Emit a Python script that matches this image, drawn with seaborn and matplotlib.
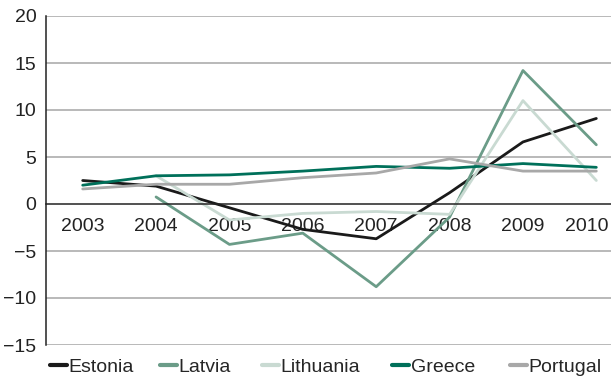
import matplotlib
matplotlib.use("Agg")
import matplotlib.pyplot as plt
import matplotlib.transforms as mtrans
import numpy as np
import pandas as pd
import seaborn as sns
from matplotlib.lines import Line2D

# ─── Data ────────────────────────────────────────────────────────────────────
years = ["2003", "2004", "2005", "2006", "2007", "2008", "2009", "2010"]
estonia = [2.5, 1.9, -0.4, -2.7, -3.7, 1.2, 6.6, 9.1]
latvia = [np.nan, 0.75, -4.3, -3.1, -8.8, -1.4, 14.2, 6.3]
lithuania = [np.nan, 3.0, -1.7, -1.0, -0.8, -1.1, 11.0, 2.5]
greece = [2.0, 3.0, 3.1, 3.5, 4.0, 3.8, 4.3, 3.9]
portugal = [1.6, 2.1, 2.1, 2.8, 3.3, 4.8, 3.5, 3.5]

countries = ["Estonia", "Latvia", "Lithuania", "Greece", "Portugal"]
colors = ["#1a1a1a", "#6b9c88", "#c9dad2", "#00705a", "#a8a8a8"]

rows = []
for name, vals in zip(countries, [estonia, latvia, lithuania, greece, portugal]):
    for i, v in enumerate(vals):
        if not np.isnan(v):
            rows.append({"pos": i, "value": v, "country": name})
df = pd.DataFrame(rows)

# ─── Plot ────────────────────────────────────────────────────────────────────
sns.set_style("white")
plt.rcParams["font.family"] = ["Liberation Sans", "DejaVu Sans"]
FS = 14

fig = plt.figure(figsize=(6.11, 3.78), dpi=100)
ax = fig.add_axes([46 / 611, 1 - 345 / 378, 1 - 46 / 611, (345 - 16) / 378])

# grid lines first so the series sit on top
for y in [-15, -10, -5, 5, 10, 15, 20]:
    ax.axhline(y, color="#a6a6a6", lw=1.1, zorder=0)

sns.lineplot(data=df, x="pos", y="value", hue="country", hue_order=countries,
             palette=colors, linewidth=2, ax=ax, legend=False, estimator=None,
             sort=False)

ax.set_xlim(-0.5, 7.2)
ax.set_ylim(-15, 20)
ax.set_yticks(range(-15, 21, 5))
ax.set_xlabel("")
ax.set_ylabel("")

for side in ["top", "right"]:
    ax.spines[side].set_visible(False)
ax.spines["bottom"].set_position(("data", 0))
ax.spines["bottom"].set_color("#222222")
ax.spines["bottom"].set_linewidth(1.1)
ax.spines["left"].set_color("#222222")
ax.spines["left"].set_linewidth(1.1)

ax.set_xticks(range(len(years)))
ax.set_xticklabels(years)
ax.set_xticks(np.arange(0.5, 7, 1), minor=True)
ax.tick_params(axis="x", which="major", length=0, pad=10, labelsize=FS,
               colors="#222222")
ax.tick_params(axis="x", which="minor", length=4, width=1, direction="out",
               colors="#222222")
ax.tick_params(axis="y", length=4, width=1, direction="out", pad=3,
               labelsize=FS, colors="#222222")

# last year label is nudged left so it stays inside the picture
last = ax.get_xticklabels()[-1]
last.set_transform(last.get_transform()
                   + mtrans.ScaledTranslation(-10 / 100, 0, fig.dpi_scale_trans))

# one legend box per country, placed along the bottom like the original
legend_x = [50, 160, 262, 392, 510]
for name, c, x in zip(countries, colors, legend_x):
    leg = fig.legend([Line2D([], [], color=c, lw=3)], [name],
                     loc="center left", bbox_to_anchor=(x / 611, 1 - 367 / 378),
                     frameon=False, fontsize=FS, handlelength=0.85,
                     handletextpad=0.12, borderpad=0, borderaxespad=0)

fig.savefig("out.png", dpi=100, facecolor="white")
